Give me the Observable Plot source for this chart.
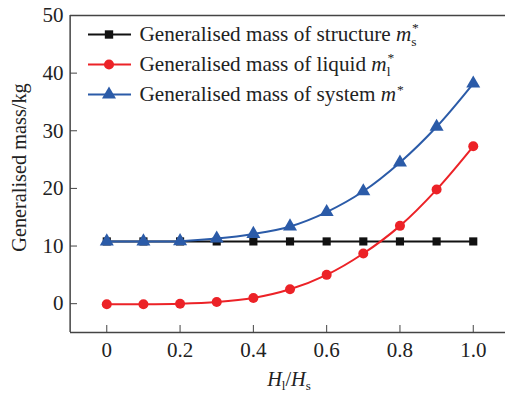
<!DOCTYPE html>
<html>
<head>
<meta charset="utf-8">
<script src="https://cdn.jsdelivr.net/npm/d3@7"></script>
<script src="https://cdn.jsdelivr.net/npm/@observablehq/plot@0.6"></script>
<style>
  html, body { margin: 0; padding: 0; background: #fff; overflow: hidden; }
</style>
</head>
<body>
<div id="chart"></div>
<script>
const ratio = [0, 0.1, 0.2, 0.3, 0.4, 0.5, 0.6, 0.7, 0.8, 0.9, 1.0];
const structureMass = [10.8, 10.8, 10.8, 10.8, 10.8, 10.8, 10.8, 10.8, 10.8, 10.8, 10.8];
const liquidMass = [-0.1, -0.1, 0.0, 0.3, 1.0, 2.5, 5.0, 8.7, 13.5, 19.8, 27.3];
const systemMass = [10.8, 10.8, 10.85, 11.3, 12.1, 13.4, 15.9, 19.5, 24.5, 30.7, 38.2];
const xTicks = [0, 0.2, 0.4, 0.6, 0.8, 1.0];
const xTickLabels = ["0", "0.2", "0.4", "0.6", "0.8", "1.0"];
const yTicks = [0, 10, 20, 30, 40, 50];

const colors = {structure: "#111111", liquid: "#ec2227", system: "#2b5ba8"};
const series = [
  {key: "structure", values: structureMass, symbol: "square", r: 4.6},
  {key: "liquid", values: liquidMass, symbol: "circle", r: 5},
  {key: "system", values: systemMass, symbol: "triangle", r: 5.2}
];
const rows = series.flatMap(s => ratio.map((x, i) => ({x, y: s.values[i], key: s.key})));

const font = "'Liberation Serif', 'Times New Roman', serif";
const axisColor = "#444";

const marks = [
  Plot.ruleY([50], {stroke: axisColor, strokeWidth: 1.5}),
  Plot.ruleY([-5], {stroke: axisColor, strokeWidth: 1.5}),
  Plot.ruleX([-0.1], {stroke: axisColor, strokeWidth: 1.5}),
  Plot.axisX({ticks: xTicks, tickFormat: (d, i) => xTickLabels[i], tickSize: -7, tickPadding: 17, stroke: axisColor, fill: "#222", label: null}),
  Plot.axisY({ticks: yTicks, tickSize: -7, tickPadding: 14, stroke: axisColor, fill: "#222", label: null})
];
for (const s of series) {
  const data = rows.filter(d => d.key === s.key);
  marks.push(Plot.line(data, {x: "x", y: "y", stroke: colors[s.key], strokeWidth: 2, curve: "catmull-rom"}));
  marks.push(Plot.dot(data, {x: "x", y: "y", fill: colors[s.key], stroke: "none", symbol: s.symbol, r: s.r}));
}

const chart = Plot.plot({
  width: 505,
  height: 394,
  marginLeft: 70,
  marginRight: 0,
  marginTop: 15,
  marginBottom: 62,
  style: {fontFamily: font, fontSize: "21px", background: "#fff", color: "#222"},
  x: {domain: [-0.099, 1.088]},
  y: {domain: [-5, 50]},
  marks
});
document.getElementById("chart").appendChild(chart);

// Axis titles and legend (text with italic / sub / superscript parts)
const svg = d3.select(chart);
svg.append("text")
  .attr("transform", "translate(26,167.5) rotate(-90)")
  .attr("text-anchor", "middle")
  .attr("font-family", font).attr("font-size", 20.3).attr("fill", "#222")
  .text("Generalised mass/kg");

const xl = svg.append("text")
  .attr("x", 289).attr("y", 386)
  .attr("text-anchor", "middle")
  .attr("font-family", font).attr("font-size", 20.3).attr("fill", "#222");
xl.append("tspan").attr("font-style", "italic").text("H");
xl.append("tspan").attr("font-size", 13).attr("dy", 4).text("l");
xl.append("tspan").attr("dy", -4).text("/");
xl.append("tspan").attr("font-style", "italic").text("H");
xl.append("tspan").attr("font-size", 13).attr("dy", 4).text("s");

const legendItems = [
  {key: "structure", symbol: d3.symbolSquare, size: 70, text: "Generalised mass of structure ", sub: "s", back: -4.5},
  {key: "liquid", symbol: d3.symbolCircle, size: 80, text: "Generalised mass of liquid ", sub: "l", back: -3},
  {key: "system", symbol: d3.symbolTriangle, size: 85, text: "Generalised mass of system ", sub: null, back: 0}
];
legendItems.forEach((item, i) => {
  const base = 40.5 + i * 30;
  const cy = base - 6;
  const g = svg.append("g");
  g.append("line").attr("x1", 88).attr("x2", 131).attr("y1", cy).attr("y2", cy)
    .attr("stroke", colors[item.key]).attr("stroke-width", 2);
  g.append("path").attr("d", d3.symbol(item.symbol, item.size)())
    .attr("transform", `translate(109,${cy})`).attr("fill", colors[item.key]);
  const t = g.append("text").attr("x", 139.5).attr("y", base)
    .attr("text-anchor", "start")
    .attr("font-family", font).attr("font-size", 21.2).attr("fill", "#222");
  t.append("tspan").text(item.text);
  t.append("tspan").attr("font-style", "italic").text("m");
  if (item.sub) {
    t.append("tspan").attr("font-size", 13.5).attr("dy", 5).text(item.sub);
    t.append("tspan").attr("font-size", 13.5).attr("dx", item.back).attr("dy", -14).text("*");
  } else {
    t.append("tspan").attr("font-size", 13.5).attr("dx", 1).attr("dy", -7).text("*");
  }
});
</script>
</body>
</html>
